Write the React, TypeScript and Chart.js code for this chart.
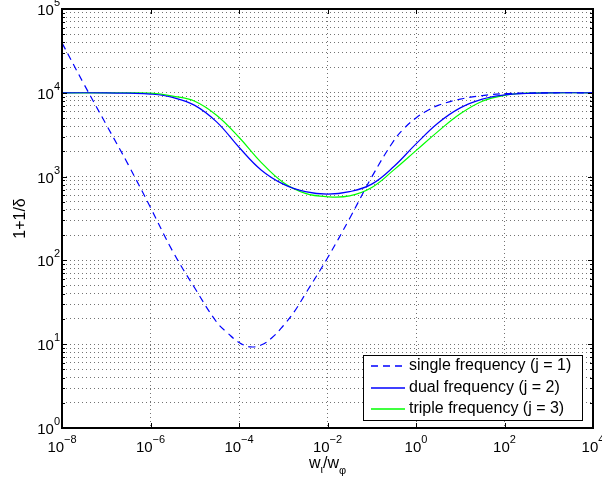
import React, { useEffect, useRef } from 'react';
import { Chart, registerables } from 'chart.js';

Chart.register(...registerables);

// ---- data ----
const SERIES_LABELS = ['single frequency (j = 1)', 'dual frequency (j = 2)', 'triple frequency (j = 3)'];

const singleX = [1e-8, 3.16e-8, 1e-7, 3.16e-7, 1e-6, 3.16e-6, 1e-5, 3.16e-5, 5.62e-5, 1e-4, 1.78e-4, 3.16e-4, 5.62e-4, 1e-3, 1.78e-3, 3.16e-3, 1e-2, 3.16e-2, 0.1, 0.316, 0.562, 1, 1.78, 3.16, 10, 31.6, 100, 316, 1000, 10000];
const singleY = [39400, 12600, 4170, 1380, 427, 129, 46.8, 18.2, 13.5, 10.5, 9.3, 9.8, 12.0, 16.6, 24.5, 39.8, 107, 316, 990, 2690, 3850, 5010, 6100, 7080, 8410, 9270, 9770, 9930, 10000, 10000];

const multiX = [1e-8, 1e-7, 3.16e-7, 1e-6, 3.16e-6, 1e-5, 3.16e-5, 1e-4, 3.16e-4, 1e-3, 3.16e-3, 1e-2, 3.16e-2, 0.1, 0.316, 1, 3.16, 10, 31.6, 100, 316, 1000, 10000];
const dualY = [10000, 10000, 9890, 9660, 8810, 7080, 4470, 2240, 1200, 813, 661, 617, 661, 813, 1318, 2455, 4365, 6607, 8414, 9441, 9840, 10000, 10000];
const tripleY = [10000, 10000, 10000, 9890, 9120, 7940, 5370, 2950, 1480, 851, 631, 575, 589, 741, 1202, 2042, 3467, 5623, 7943, 9333, 9886, 10000, 10000];

const X_TICKS = [1e-8, 1e-6, 1e-4, 1e-2, 1, 1e2, 1e4];
const X_TICK_EXPONENTS = ['−8', '−6', '−4', '−2', '0', '2', '4'];
const Y_MAJOR = [1, 10, 100, 1000, 10000, 100000];
const Y_TICK_EXPONENTS = ['0', '1', '2', '3', '4', '5'];
const TICK_BASE = '10';

const FONT = 'Liberation Sans, Arial, Helvetica, sans-serif';

const pts = (xs: number[], ys: number[]) => xs.map((x, i) => ({ x, y: ys[i] }));

const decorPlugin = {
  id: 'decor',
  afterDatasetsDraw(chart: any) {
    const { ctx, chartArea: ca, scales } = chart;
    const l = Math.round(ca.left), t = Math.round(ca.top), r = Math.round(ca.right), b = Math.round(ca.bottom);
    ctx.save();
    // inner ticks
    ctx.strokeStyle = '#000';
    ctx.lineWidth = 1;
    ctx.beginPath();
    X_TICKS.forEach((v) => {
      const px = Math.round(scales.x.getPixelForValue(v)) + 0.5;
      ctx.moveTo(px, b); ctx.lineTo(px, b - 5);
      ctx.moveTo(px, t); ctx.lineTo(px, t + 5);
    });
    scales.y.ticks.forEach((tk: any) => {
      const py = Math.round(scales.y.getPixelForValue(tk.value)) + 0.5;
      const len = Y_MAJOR.includes(tk.value) ? 5 : 3;
      ctx.moveTo(l, py); ctx.lineTo(l + len, py);
      ctx.moveTo(r, py); ctx.lineTo(r - len, py);
    });
    ctx.stroke();
    // frame
    ctx.lineWidth = 2;
    ctx.strokeRect(l, t, r - l, b - t);

    // tick labels: 10^n
    const baseFont = `15px ${FONT}`, expFont = `11px ${FONT}`;
    ctx.fillStyle = '#000';
    ctx.textBaseline = 'alphabetic';
    ctx.textAlign = 'left';
    const measure = (s: string, f: string) => { ctx.font = f; return ctx.measureText(s).width; };
    const bw = measure(TICK_BASE, baseFont);
    X_TICKS.forEach((v, i) => {
      const px = scales.x.getPixelForValue(v);
      const ew = measure(X_TICK_EXPONENTS[i], expFont);
      const x0 = px - (bw + ew) / 2;
      const by = b + 24;
      ctx.font = baseFont; ctx.fillText(TICK_BASE, x0, by);
      ctx.font = expFont; ctx.fillText(X_TICK_EXPONENTS[i], x0 + bw, by - 9);
    });
    Y_MAJOR.forEach((v, i) => {
      const py = scales.y.getPixelForValue(v);
      const ew = measure(Y_TICK_EXPONENTS[i], expFont);
      const x0 = l - 2 - ew - bw;
      const by = py + 6;
      ctx.font = baseFont; ctx.fillText(TICK_BASE, x0, by);
      ctx.font = expFont; ctx.fillText(Y_TICK_EXPONENTS[i], x0 + bw, by - 9);
    });

    // legend
    const lw = 219, lh = 65;
    const bx = r - 11 - lw, byy = b - 8 - lh;
    ctx.fillStyle = '#fff';
    ctx.fillRect(bx, byy, lw, lh);
    ctx.lineWidth = 1;
    ctx.strokeStyle = '#000';
    ctx.strokeRect(bx + 0.5, byy + 0.5, lw, lh);
    ctx.font = `16px ${FONT}`;
    ctx.textBaseline = 'middle';
    ctx.textAlign = 'left';
    chart.data.datasets.forEach((ds: any, i: number) => {
      const ry = Math.round(byy + 11 + i * 21.5);
      ctx.save();
      ctx.strokeStyle = ds.borderColor;
      ctx.lineWidth = 1.4;
      ctx.setLineDash(ds.borderDash || []);
      ctx.beginPath();
      ctx.moveTo(bx + 8, ry); ctx.lineTo(bx + 42, ry);
      ctx.stroke();
      ctx.restore();
      ctx.fillStyle = '#000';
      ctx.fillText(ds.label, bx + 46, ry);
    });

    // x axis title: w_ι / w_φ
    const big = `16px ${FONT}`, small = `11px ${FONT}`;
    const parts = [
      { s: 'w', f: big, dy: 0 },
      { s: 'ι', f: small, dy: 5 },
      { s: '/w', f: big, dy: 0 },
      { s: 'φ', f: small, dy: 6 },
    ];
    let total = 0;
    parts.forEach((p) => { total += measure(p.s, p.f); });
    let cx = (ca.left + ca.right) / 2 - total / 2;
    const base = 468;
    ctx.textBaseline = 'alphabetic';
    ctx.fillStyle = '#000';
    parts.forEach((p) => {
      ctx.font = p.f;
      ctx.fillText(p.s, cx, base + p.dy);
      cx += ctx.measureText(p.s).width;
    });
    ctx.restore();
  },
};

export default function App() {
  const ref = useRef<HTMLCanvasElement | null>(null);
  useEffect(() => {
    document.body.style.margin = '0';
    const canvas = ref.current!;
    const chart = new Chart(canvas, {
      type: 'line',
      data: {
        datasets: [
          { label: SERIES_LABELS[0], data: pts(singleX, singleY), borderColor: '#0000ff', borderWidth: 1.2, borderDash: [7, 5], fill: false, tension: 0.4 },
          { label: SERIES_LABELS[1], data: pts(multiX, dualY), borderColor: '#0000ff', borderWidth: 1.2, fill: false, tension: 0.4 },
          { label: SERIES_LABELS[2], data: pts(multiX, tripleY), borderColor: '#00ff00', borderWidth: 1.2, fill: false, tension: 0.4 },
        ],
      },
      options: {
        animation: false,
        responsive: false,
        devicePixelRatio: 1,
        layout: { padding: { top: 9, right: 9, left: 0, bottom: 0 } },
        elements: { point: { radius: 0 } },
        plugins: { legend: { display: false }, tooltip: { enabled: false } },
        scales: {
          x: {
            type: 'logarithmic',
            min: 1e-8,
            max: 1e4,
            afterBuildTicks: (s: any) => { s.ticks = X_TICKS.map((v) => ({ value: v })); },
            afterFit: (s: any) => { s.height = 57; },
            grid: { color: 'rgba(0,0,0,0.55)', lineWidth: 1, drawTicks: false },
            border: { display: false, dash: [1, 3] },
            ticks: { display: false, autoSkip: false },
          },
          y: {
            type: 'logarithmic',
            min: 1,
            max: 1e5,
            afterBuildTicks: (s: any) => {
              const tk: any[] = [];
              Y_MAJOR.forEach((m, k) => {
                if (k === Y_MAJOR.length - 1) { tk.push({ value: m }); return; }
                for (let j = 1; j <= 9; j++) tk.push({ value: j * m });
              });
              s.ticks = tk;
            },
            afterFit: (s: any) => { s.width = 62; },
            grid: { color: 'rgba(0,0,0,0.55)', lineWidth: 1, drawTicks: false },
            border: { display: false, dash: [1, 3] },
            title: { display: true, text: '1+1/δ', color: '#000', font: { family: FONT, size: 16 }, padding: { top: 11, bottom: 0 } },
            ticks: { display: false, autoSkip: false },
          },
        },
      },
      plugins: [decorPlugin],
    } as any);
    return () => chart.destroy();
  }, []);
  return (
    <div style={{ position: 'absolute', left: 0, top: 0, width: 602, height: 485, background: '#fff' }}>
      <canvas ref={ref} width={602} height={485} style={{ display: 'block', width: 602, height: 485 }} />
    </div>
  );
}
